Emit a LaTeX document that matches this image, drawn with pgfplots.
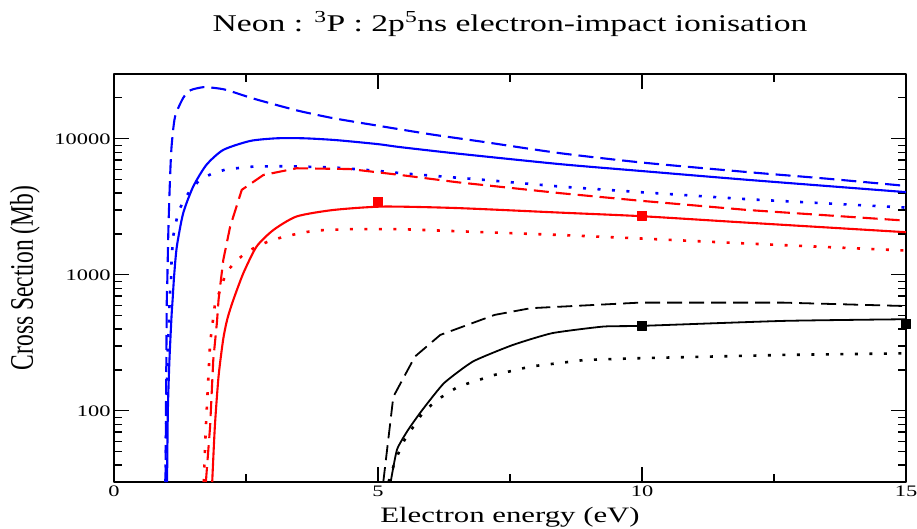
\documentclass[border=0pt]{standalone}
\usepackage{fontspec}
\setmainfont{Liberation Serif}[FakeStretch=1.4]
\newfontfamily\plainserif{Liberation Serif}
\usepackage{graphicx}
\usepackage{pgfplots}
\pgfplotsset{compat=1.18}
\definecolor{gblue}{RGB}{0,0,255}
\definecolor{gred}{RGB}{255,0,0}
\tikzset{
  solidl/.style={line width=2.1pt},
  dashl/.style={line width=2.1pt, dash pattern=on 15pt off 7pt},
  dotl/.style={line width=2.6pt, dash pattern=on 3pt off 11.5pt},
}
\begin{document}
\begin{tikzpicture}
\path[use as bounding box] (0,0) rectangle (917pt,528pt);
\begin{axis}[
  at={(114pt,46pt)}, anchor=south west,
  scale only axis, width=792pt, height=408pt,
  xmin=0, xmax=15, ymin=30, ymax=30000, ymode=log,
  xtick={0,5,10,15}, xticklabels={0,5,10,15},
  minor xtick={2.5,7.5,12.5},
  ytick={100,1000,10000}, yticklabels={100,1000,10000},
  minor ytick={40,50,60,70,80,90,200,300,400,500,600,700,800,900,2000,3000,4000,5000,6000,7000,8000,9000,20000},
  tick align=inside,
  major tick length=15pt, minor tick length=8pt,
  every tick/.style={black, line width=1.1pt},
  axis line style={line width=1.4pt},
  ticklabel style={font=\fontsize{16}{18}\selectfont},
  clip=false,
  line join=round,
]
% blue dashed
\addplot[gblue, dashl, smooth, tension=0.4] coordinates {
(0.975,30) (0.99,200) (1.0,655) (1.01,920) (1.03,2140) (1.06,5000) (1.09,8770) (1.155,14500) (1.31,20000) (1.45,22800) (1.69,24000) (1.9,23700) (2.13,22900) (2.6,20000) (3.02,18000) (3.52,16000) (4.15,14200) (5,12500) (6,10800) (7,9500) (8.45,7850) (10,6700) (12,5700) (13.5,5100) (15,4510)};
% blue solid
\addplot[gblue, solidl, smooth, tension=0.4] coordinates {
(1.005,30) (1.02,100) (1.05,237) (1.09,500) (1.11,655) (1.14,1000) (1.19,1615) (1.31,2840) (1.5,4460) (1.75,6440) (2.07,8300) (2.58,9660) (3.08,10100) (3.6,10100) (4.2,9800) (5,9150) (5.42,8700) (6.5,7800) (8.45,6520) (10,5800) (12,5000) (15,4060)};
% blue dotted
\addplot[gblue, dotl] coordinates {
(0.975,30) (0.99,100) (1.02,300) (1.06,733) (1.08,920) (1.09,1290) (1.12,1910) (1.19,2610) (1.25,3090) (1.345,3660) (1.47,4330) (1.63,5000) (1.85,5540) (2.13,5980) (2.64,6260) (3.3,6300) (4.2,6150) (5,5820) (5.42,5600) (7,5000) (8.45,4460) (10,4050) (12,3600) (15,3125)};
% red dashed
\addplot[gred, dashl] coordinates {
(1.74,30) (1.82,76.7) (1.88,237) (1.95,450) (1.98,655) (2.07,1290) (2.2,2266) (2.42,4220) (2.83,5430) (3.46,6080) (4.47,6000) (5.42,5430) (6.5,4800) (8.45,3990) (10,3500) (12,3000) (15,2505)};
% red solid
\addplot[gred, solidl, smooth, tension=0.4] coordinates {
(1.86,30) (1.91,76.7) (1.98,179) (2.07,340) (2.15,480) (2.26,655) (2.45,1030) (2.70,1615) (3.02,2140) (3.46,2690) (4.15,3000) (5.1,3180) (6.5,3100) (8.45,2870) (10,2700) (12,2420) (15,2060)};
% red dotted
\addplot[gred, dotl] coordinates {
(1.70,30) (1.74,76.7) (1.82,315) (1.91,600) (2.01,776) (2.13,1057) (2.31,1253) (2.48,1445) (2.70,1615) (2.92,1760) (3.18,1890) (3.43,1990) (3.8,2120) (4.47,2170) (5.42,2170) (8.45,1966) (10,1850) (12,1700) (15,1510)};
% black dashed
\addplot[black, dashl, line width=1.8pt] coordinates {
(5.1,30) (5.29,127) (5.70,251) (6.18,362) (7.21,508) (7.89,569) (9.95,625) (12.69,625) (15,590)};
% black solid
\addplot[black, line width=1.8pt, smooth, tension=0.3] coordinates {
(5.24,30) (5.36,52) (5.57,72.5) (5.84,101.7) (6.25,160) (6.80,231) (7.55,305) (8.30,373) (9.27,417) (10,422) (12.69,459) (15,472)};
% black dotted
\addplot[black, dotl] coordinates {
(5.2,30) (5.33,43.6) (5.5,61) (5.84,96) (6.11,120) (6.52,151) (7.21,184) (7.89,212) (8.92,237) (9.95,244) (12.69,258) (15,265)};
% squares
\addplot[only marks, mark=square*, mark size=4.5pt, gred] coordinates {(5,3460) (10,2720)};
\addplot[only marks, mark=square*, mark size=4.5pt, black] coordinates {(10,422) (15,436)};
\end{axis}
\node[anchor=base] at (510pt,496pt) {\fontsize{24}{27}\selectfont Neon : \textsuperscript{3}P : 2p\textsuperscript{5}ns electron-impact ionisation};
\node[anchor=base] at (510pt,6pt) {\fontsize{22}{24}\selectfont Electron energy (eV)};
\node[rotate=90] at (25pt,250pt) {\scalebox{1}[1.4]{\plainserif\fontsize{23.5}{26}\selectfont Cross Section (Mb)}};
\end{tikzpicture}
\end{document}
